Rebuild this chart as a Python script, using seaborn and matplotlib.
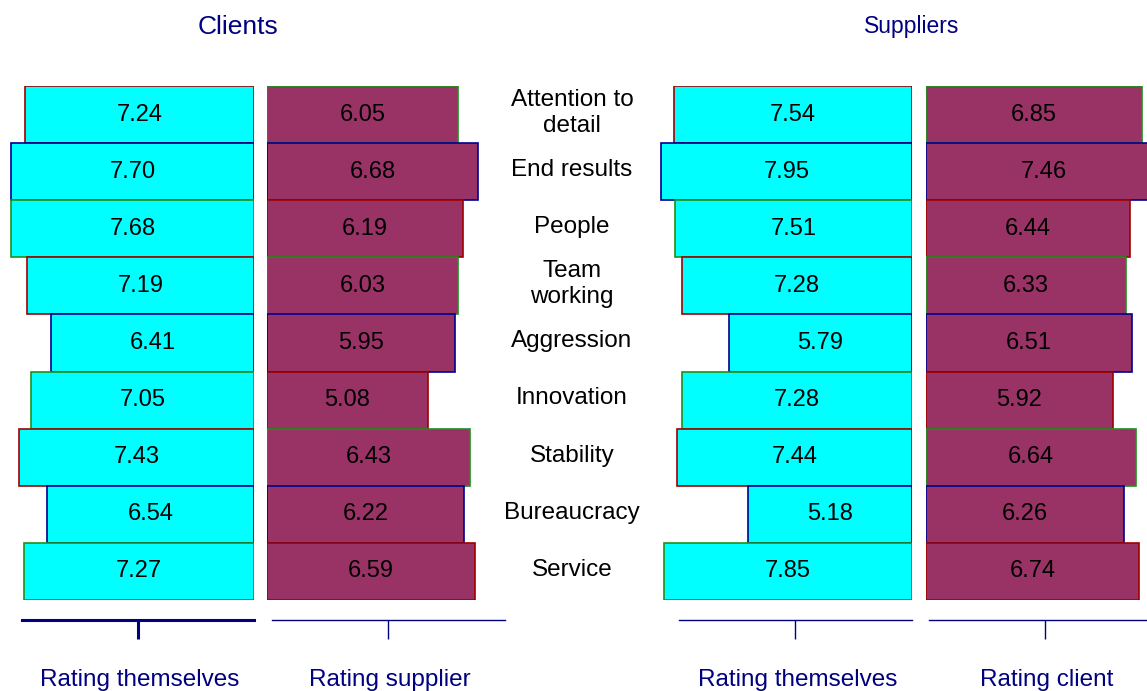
import matplotlib
matplotlib.use("Agg")
import matplotlib.pyplot as plt
import seaborn as sns

categories = ["Attention to\ndetail", "End results", "People", "Team\nworking",
              "Aggression", "Innovation", "Stability", "Bureaucracy", "Service"]
clients_self = [7.24, 7.70, 7.68, 7.19, 6.41, 7.05, 7.43, 6.54, 7.27]
clients_rating_supplier = [6.05, 6.68, 6.19, 6.03, 5.95, 5.08, 6.43, 6.22, 6.59]
suppliers_self = [7.54, 7.95, 7.51, 7.28, 5.79, 7.28, 7.44, 5.18, 7.85]
suppliers_rating_client = [6.85, 7.46, 6.44, 6.33, 6.51, 5.92, 6.64, 6.26, 6.74]

sns.set_style("white")
plt.rcParams["font.family"] = ["Liberation Sans", "DejaVu Sans"]
plt.rcParams["text.color"] = "black"

NAVY = "#000080"
CYAN = "#00ffff"
MAROON = "#993366"
RED, BLUE, GREEN = "#a00000", "#000090", "#1f8f1f"
edges_self = [RED, BLUE, GREEN] * 3
edges_other = [GREEN, BLUE, RED] * 3

W, H = 1147, 691
K = 31.6  # pixels per rating unit

fig = plt.figure(figsize=(W / 100, H / 100), dpi=100)


def add_ax(x0, x1, y0=86, y1=600):
    return fig.add_axes([x0 / W, 1 - y1 / H, (x1 - x0) / W, (y1 - y0) / H])


def panel(x0, x1, values, fill, edges, reverse, bounds, tick, lw):
    ax = add_ax(x0, x1)
    sns.barplot(x=values, y=list(range(len(values))), orient="h", ax=ax,
                color=fill, saturation=1, width=1.0, linewidth=1.2)
    for patch, ec in zip(ax.patches, edges):
        patch.set_edgecolor(ec)
    span = (x1 - x0) / K
    ax.set_xlim((span, 0) if reverse else (0, span))
    ax.set_ylim(len(values) - 0.5, -0.5)
    for i, v in enumerate(values):
        ax.text(v / 2, i, f"{v:.2f}", ha="center", va="center", fontsize=17,
                color="black")
    for s in ["left", "right", "top"]:
        ax.spines[s].set_visible(False)
    sp = ax.spines["bottom"]
    sp.set_position(("outward", 14.4))
    sp.set_bounds(*bounds)
    sp.set_color(NAVY)
    sp.set_linewidth(lw)
    ax.set_xticks([tick])
    ax.set_yticks([])
    ax.tick_params(axis="x", bottom=True, direction="out", length=13.5,
                   width=lw, color=NAVY, labelbottom=False)
    ax.set_xlabel("")
    ax.set_ylabel("")
    return ax


panel(0, 254, clients_self, CYAN, edges_self, True,
      (0, (254 - 22) / K), (254 - 138) / K, 2.2)
panel(267, 521, clients_rating_supplier, MAROON, edges_other, False,
      ((272 - 267) / K, (505 - 267) / K), (388 - 267) / K, 1.0)
panel(658, 912, suppliers_self, CYAN, edges_self, True,
      (0, (912 - 679) / K), (912 - 795) / K, 1.0)
panel(926, 1147, suppliers_rating_client, MAROON, edges_other, False,
      ((929 - 926) / K, 221 / K), (1045 - 926) / K, 1.0)

# category labels in the middle
axc = add_ax(494, 650)
axc.set_xlim(0, 1)
axc.set_ylim(len(categories) - 0.5, -0.5)
axc.axis("off")
for i, c in enumerate(categories):
    axc.text(0.5, i - 0.03, c, ha="center", va="center", fontsize=17.5,
             linespacing=1.25, color="black")

fig.text(238 / W, 1 - 27 / H, "Clients", ha="center", va="center",
         fontsize=19, color=NAVY)
fig.text(912 / W, 1 - 27 / H, "Suppliers", ha="center", va="center",
         fontsize=16.5, color=NAVY)

for x, lab in [(140, "Rating themselves"), (390, "Rating supplier"),
               (798, "Rating themselves"), (1047, "Rating client")]:
    fig.text(x / W, 1 - 680 / H, lab, ha="center", va="center",
             fontsize=17.5, color=NAVY)

fig.savefig("out.png", dpi=100)
